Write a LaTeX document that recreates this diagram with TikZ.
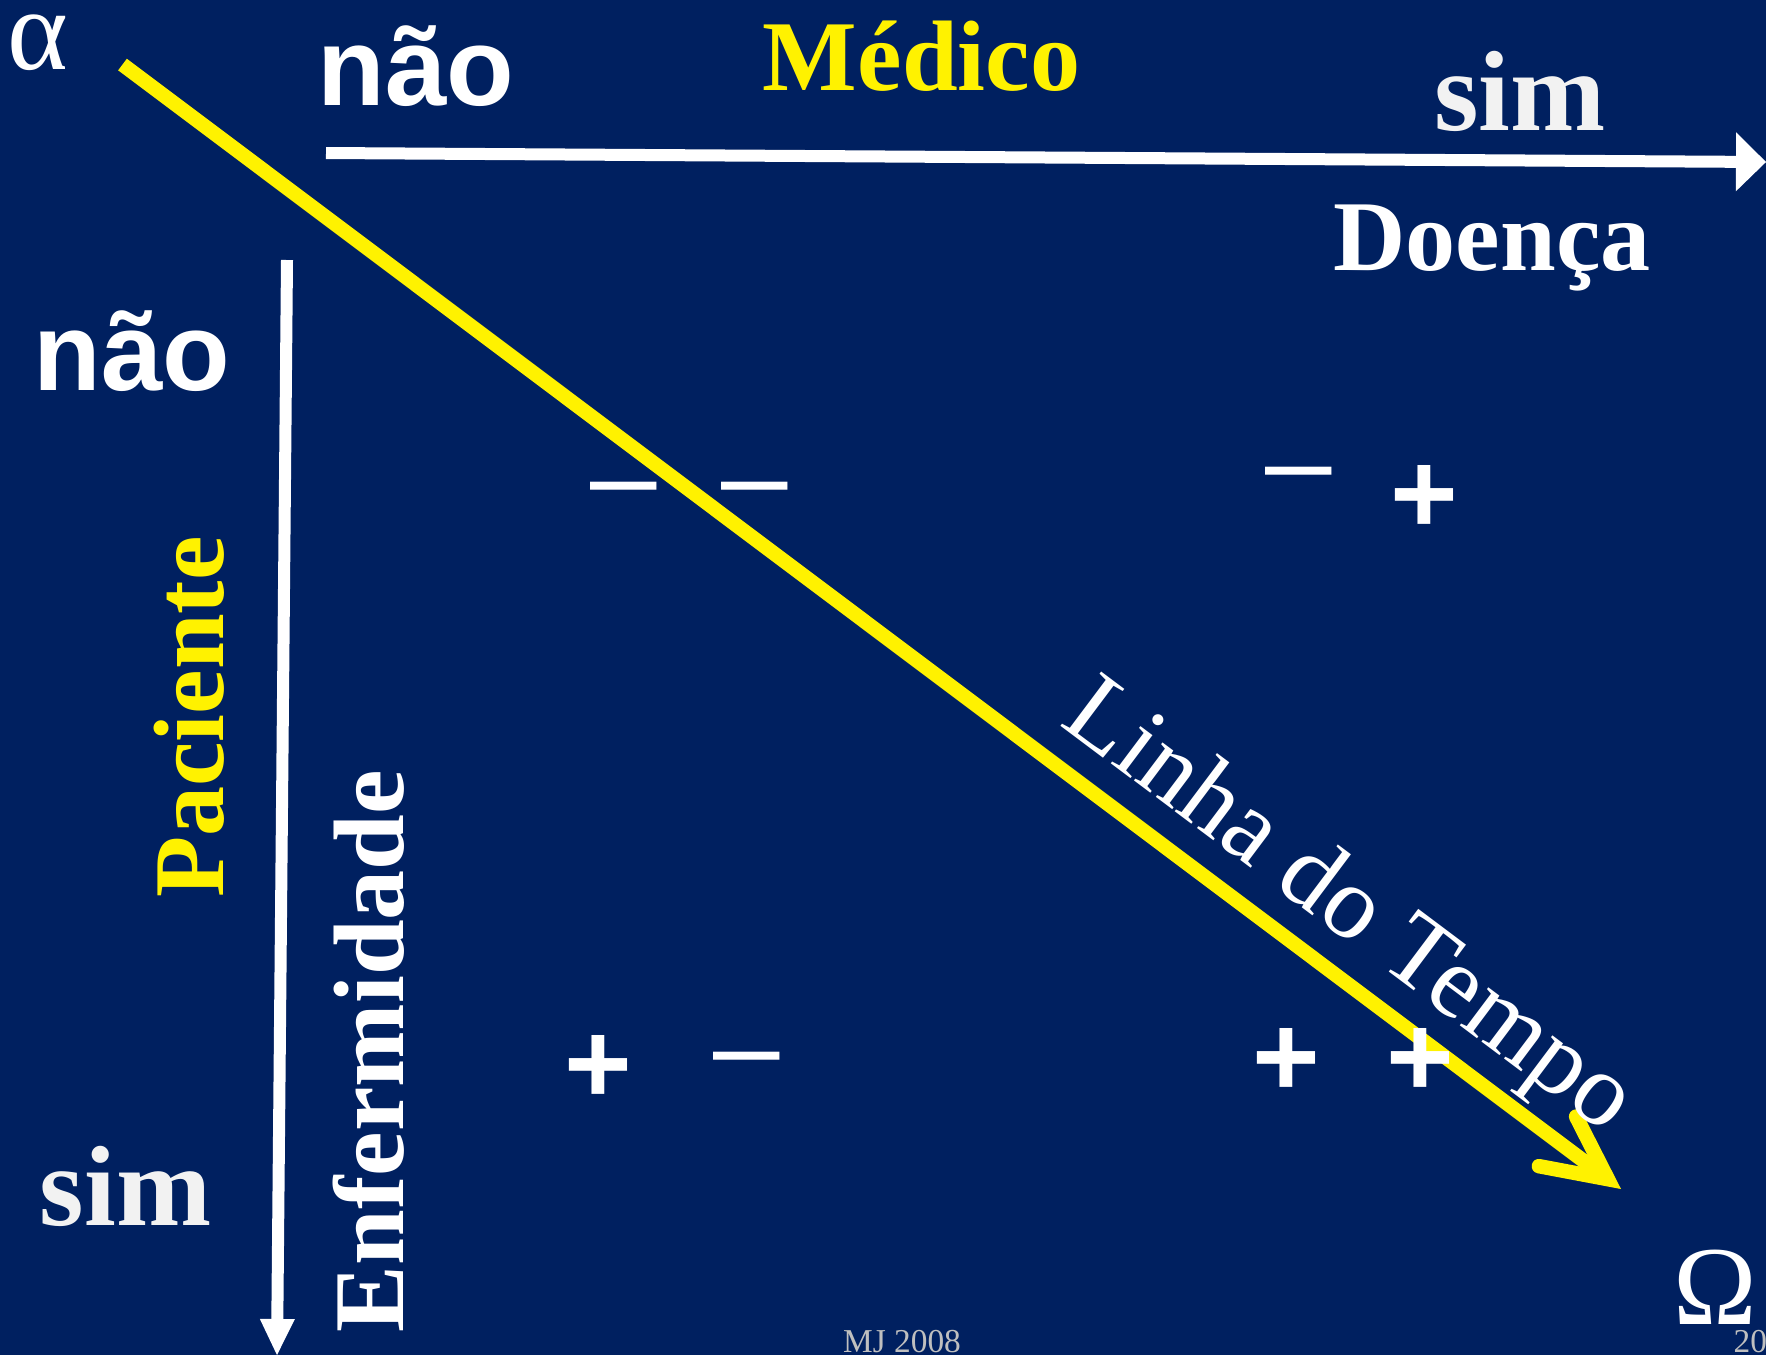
\documentclass[tikz,border=0pt]{standalone}
\usepackage{fontspec}
\setmainfont{Liberation Serif}
\newfontfamily\arialfont{Liberation Sans}
\usetikzlibrary{arrows.meta}

\definecolor{slide}{RGB}{0,32,96}
\definecolor{offwhite}{RGB}{242,242,242}
\definecolor{footgray}{RGB}{191,191,191}

\begin{document}
\begin{tikzpicture}[x=0.1mm, y=-0.1mm,
  eixo/.style={draw=white, line width=1.2mm},
  rotulo/.style={white, inner sep=0pt, anchor=base, font=\fontsize{28.5}{30}\selectfont\bfseries},
  resposta/.style={white, inner sep=0pt, anchor=base, font=\arialfont\fontsize{31.5}{33}\selectfont\bfseries},
  sinal/.style={white, inner sep=0pt, yshift=-0.6mm, font=\arialfont\fontsize{33}{35}\selectfont\bfseries},
  traco/.style={white, inner sep=0pt, yshift=-1.3mm, font=\arialfont\fontsize{34}{36}\selectfont},
  rodape/.style={footgray, inner sep=0pt, anchor=base, font=\fontsize{9.5}{11}\selectfont}]
\useasboundingbox (0,0) rectangle (1766,1355);
\fill[slide] (0,0) rectangle (1766,1355);

% eixos
\coordinate (Mini) at (326,153);
\coordinate (Mfim) at (1766,162);
\coordinate (Pini) at (287,260);
\coordinate (Pfim) at (277,1355);
\draw[eixo, -{Triangle[length=3mm, width=5.9mm, line width=0pt]}] (Mini) -- (Mfim);
\draw[eixo, -{Triangle[length=3.6mm, width=3.5mm, line width=0pt]}] (Pini) -- (Pfim);

% linha do tempo
\coordinate (Tini) at (122.5,64.5);
\coordinate (Tfim) at (1621,1189);
\draw[yellow, line width=1.45mm, -{Straight Barb[length=6.3mm, width=6.2mm, line cap=round, line join=miter]}] (Tini) -- (Tfim);
\node[white, inner sep=0pt, anchor=base west, rotate=-36.87, font=\fontsize{29.5}{31}\selectfont] (tempo) at (1058,724) {Linha do Tempo};

% rotulos
\node[white, inner sep=0pt, anchor=base, font=\fontsize{33}{35}\selectfont] (alfa) at (38,69) {α};
\node[white, inner sep=0pt, anchor=base, font=\fontsize{32}{34}\selectfont] (omega) at (1715,1324) {Ω};
\node[resposta] (naoM) at (416,105) {não};
\node[resposta] (naoP) at (132,390) {não};
\node[rotulo, yellow] (medico) at (921.5,90) {Médico};
\node[rotulo, offwhite, font=\fontsize{32.5}{34}\selectfont\bfseries] (simM) at (1520,130) {sim};
\node[rotulo] (doenca) at (1492,270) {Doença};
\node[rotulo, offwhite, font=\fontsize{32.5}{34}\selectfont\bfseries] (simP) at (125.5,1225) {sim};
\node[rotulo, yellow, rotate=90] (paciente) at (223,717) {Paciente};
\node[rotulo, rotate=90] (enferm) at (403,1051) {Enfermidade};

% sinais
\node[traco] (s1) at (624,486) {–};
\node[traco] (s2) at (755,486) {–};
\node[traco] (s3) at (1299,471) {–};
\node[sinal] (s4) at (1424.5,493) {+};
\node[sinal] (s5) at (598.5,1063) {+};
\node[traco] (s6) at (747,1056) {–};
\node[sinal] (s7) at (1286,1056) {+};
\node[sinal] (s8) at (1420,1056) {+};

% rodape
\node[rodape] (autor) at (902,1352) {MJ 2008};
\node[rodape, anchor=base west] (pagina) at (1733,1352) {20};
\end{tikzpicture}
\end{document}
